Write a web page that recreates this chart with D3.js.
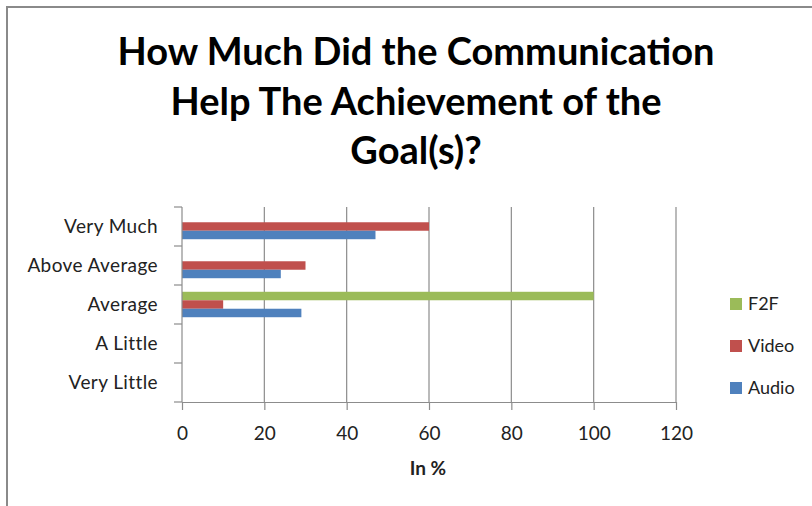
<!DOCTYPE html>
<html>
<head>
<meta charset="utf-8">
<script src="https://cdn.jsdelivr.net/npm/d3@7"></script>
<style>
  html, body { margin: 0; padding: 0; background: #fff; }
  svg { display: block; }
</style>
</head>
<body>
<svg id="chart" width="812" height="506"></svg>
<script>
// Survey responses, in percent
const categories = ["Very Much", "Above Average", "Average", "A Little", "Very Little"];
const seriesNames = ["F2F", "Video", "Audio"];
const f2fValues   = [0, 0, 100, 0, 0];
const videoValues = [60, 30, 10, 0, 0];
const audioValues = [47, 24, 29, 0, 0];
const xTicks = [0, 20, 40, 60, 80, 100, 120];
const titleLines = ["How Much Did the Communication", "Help The Achievement of the", "Goal(s)?"];
const xAxisTitle = "In %";

const colors = { "F2F": "#9BBB59", "Video": "#C0504D", "Audio": "#4F81BD" };
const valuesBySeries = { "F2F": f2fValues, "Video": videoValues, "Audio": audioValues };

const svg = d3.select("#chart");
const font = "Lato, 'Open Sans', sans-serif";

// chart frame
svg.append("rect")
  .attr("x", 7).attr("y", 7).attr("width", 830).attr("height", 530)
  .attr("fill", "#fff").attr("stroke", "#8a8a8a").attr("stroke-width", 2);

// title
const title = svg.append("g");
titleLines.forEach((line, i) => {
  title.append("text")
    .attr("x", 416).attr("y", 65 + i * 49.5)
    .attr("text-anchor", "middle")
    .attr("font-family", font).attr("font-weight", 700)
    .attr("font-size", 38)
    .attr("fill", "#000")
    .text(line);
});

const plot = { left: 182, right: 676, top: 207, bottom: 402 };

const x = d3.scaleLinear().domain([0, 120]).range([plot.left, plot.right]);
const y = d3.scaleBand().domain(categories).range([plot.top, plot.bottom]);
const barH = y.bandwidth() / 4.6;
const yInner = d3.scaleBand().domain(seriesNames)
  .range([(y.bandwidth() - 3 * barH) / 2, (y.bandwidth() + 3 * barH) / 2]);

// vertical gridlines
svg.append("g")
  .selectAll("line").data(xTicks.slice(1)).join("line")
  .attr("x1", d => x(d)).attr("x2", d => x(d))
  .attr("y1", plot.top).attr("y2", plot.bottom)
  .attr("stroke", "#8c8c8c").attr("stroke-width", 1.2);

// bars
const rows = categories.map((c, i) => ({ c, i }));
seriesNames.forEach(s => {
  svg.append("g")
    .selectAll("rect").data(rows.filter(r => valuesBySeries[s][r.i] > 0)).join("rect")
    .attr("x", x(0))
    .attr("y", r => y(r.c) + yInner(s))
    .attr("width", r => x(valuesBySeries[s][r.i]) - x(0))
    .attr("height", yInner.bandwidth())
    .attr("fill", colors[s]);
});

// x axis
const xAxis = svg.append("g")
  .attr("transform", `translate(0,${plot.bottom})`)
  .call(d3.axisBottom(x).tickValues(xTicks).tickSize(8).tickPadding(17).tickSizeOuter(0));
xAxis.select(".domain").attr("stroke", "#8c8c8c").attr("stroke-width", 1.2);
xAxis.selectAll(".tick line").attr("stroke", "#8c8c8c").attr("stroke-width", 1.2);
xAxis.selectAll(".tick text")
  .attr("font-family", font).attr("font-size", 19).attr("fill", "#222");

// y axis: ticks sit on the band boundaries
const yAxisG = svg.append("g");
yAxisG.append("line")
  .attr("x1", plot.left).attr("x2", plot.left)
  .attr("y1", plot.top).attr("y2", plot.bottom)
  .attr("stroke", "#8c8c8c").attr("stroke-width", 1.2);
yAxisG.selectAll("line.tick")
  .data(categories.map(c => y(c)).concat([plot.bottom])).join("line")
  .attr("class", "tick")
  .attr("x1", plot.left - 8).attr("x2", plot.left)
  .attr("y1", d => d).attr("y2", d => d)
  .attr("stroke", "#8c8c8c").attr("stroke-width", 1.2);
yAxisG.selectAll("text").data(categories).join("text")
  .attr("x", 158)
  .attr("y", c => y(c) + y.bandwidth() / 2)
  .attr("dy", "0.35em")
  .attr("text-anchor", "end")
  .attr("font-family", font).attr("font-size", 19)
  .attr("letter-spacing", 0.4).attr("fill", "#222")
  .text(c => c);

// x axis title
svg.append("text")
  .attr("x", 428).attr("y", 475)
  .attr("text-anchor", "middle")
  .attr("font-family", font).attr("font-weight", 700).attr("font-size", 19)
  .attr("fill", "#222")
  .text(xAxisTitle);

// legend
const legend = svg.append("g");
seriesNames.forEach((s, i) => {
  const cy = 304 + i * 42;
  legend.append("rect")
    .attr("x", 730).attr("y", cy - 6).attr("width", 12).attr("height", 12)
    .attr("fill", colors[s]);
  legend.append("text")
    .attr("x", 748).attr("y", cy).attr("dy", "0.35em")
    .attr("font-family", font).attr("font-size", 18).attr("fill", "#222")
    .text(s);
});
</script>
</body>
</html>
